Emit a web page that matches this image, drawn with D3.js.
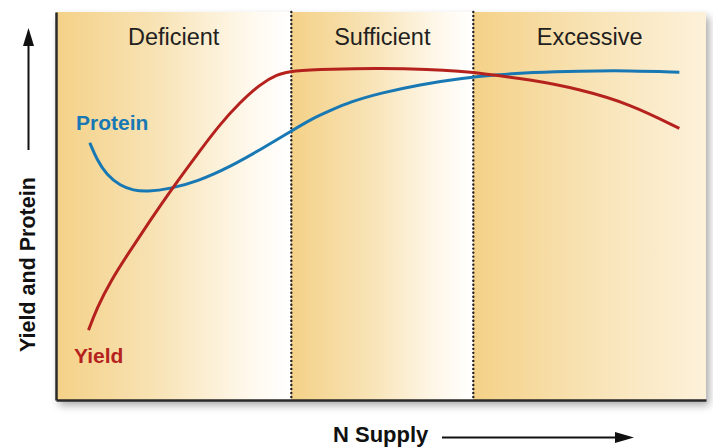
<!DOCTYPE html>
<html>
<head>
<meta charset="utf-8">
<script src="https://cdn.jsdelivr.net/npm/d3@7/dist/d3.min.js"></script>
<style>
  html, body { margin: 0; padding: 0; background: #fff; }
  svg { display: block; }
  text { font-family: "Liberation Sans", Arial, sans-serif; }
</style>
</head>
<body>
<svg id="chart" width="713" height="448"></svg>
<script>
// ---- data ----
const bandNames = ["Deficient", "Sufficient", "Excessive"];
const bandEdges = [0, 3.62, 6.42, 10];            // N supply (relative units)
const yieldN    = [0.50, 0.63, 0.83, 1.14, 1.45, 1.75, 2.22, 2.52, 2.83, 3.14, 3.40, 3.63, 4.22, 4.99, 5.75, 6.22, 6.52, 7.29, 8.06, 8.83, 9.59];
const yieldVal  = [18.0, 23.7, 30.4, 38.5, 46.3, 53.7, 64.4, 71.0, 76.7, 81.4, 83.9, 84.9, 85.3, 85.5, 85.2, 84.7, 84.2, 82.6, 80.1, 76.3, 70.0];
const proteinN   = [0.52, 0.63, 0.78, 0.99, 1.19, 1.40, 1.75, 2.17, 2.68, 3.19, 3.62, 3.95, 4.22, 4.52, 4.99, 5.60, 6.22, 6.83, 7.29, 8.06, 8.83, 9.59];
const proteinVal = [66.3, 61.9, 58.0, 55.2, 54.0, 53.7, 54.4, 56.3, 60.1, 65.0, 69.3, 72.6, 74.6, 76.8, 79.1, 81.3, 82.9, 83.9, 84.4, 84.8, 84.9, 84.5];
const xDomain = [0, 10];
const yDomain = [0, 100];

// ---- layout ----
const svg = d3.select("#chart");
const L = 56, R = 706, T = 12, B = 400;
const x = d3.scaleLinear().domain(xDomain).range([L, R]);
const y = d3.scaleLinear().domain(yDomain).range([B, T]);

const defs = svg.append("defs");
const f = defs.append("filter").attr("id", "shadow")
  .attr("x", "-5%").attr("y", "-5%").attr("width", "115%").attr("height", "120%");
f.append("feDropShadow").attr("dx", 3).attr("dy", 5).attr("stdDeviation", 4)
  .attr("flood-color", "#000").attr("flood-opacity", 0.35);

const gradStops = [
  [[0, "#f4d187"], [0.45, "#f8e4b8"], [0.85, "#fffaf0"], [1, "#ffffff"]],
  [[0, "#f4d187"], [0.45, "#f8e4b8"], [0.85, "#fffaf0"], [1, "#ffffff"]],
  [[0, "#f4d187"], [0.5, "#f8e3b5"], [1, "#fdf1da"]]
];
gradStops.forEach((stops, i) => {
  const g = defs.append("linearGradient").attr("id", "band" + i)
    .attr("x1", "0%").attr("x2", "100%").attr("y1", "0%").attr("y2", "0%");
  stops.forEach(s => g.append("stop").attr("offset", s[0]).attr("stop-color", s[1]));
});

// background with shadow
svg.append("rect").attr("x", L).attr("y", T).attr("width", R - L).attr("height", B - T)
  .attr("fill", "#fdf1da").attr("filter", "url(#shadow)");

// bands
const bands = bandNames.map((n, i) => ({ name: n, x0: bandEdges[i], x1: bandEdges[i + 1], i }));
svg.selectAll("rect.band").data(bands).join("rect").attr("class", "band")
  .attr("x", d => x(d.x0)).attr("y", T)
  .attr("width", d => x(d.x1) - x(d.x0)).attr("height", B - T)
  .attr("fill", d => `url(#band${d.i})`);

svg.selectAll("text.band").data(bands).join("text").attr("class", "band")
  .attr("x", d => (x(d.x0) + x(d.x1)) / 2).attr("y", 45)
  .attr("text-anchor", "middle").attr("font-size", 23.5).attr("fill", "#231f20")
  .text(d => d.name);

// dotted dividers
svg.selectAll("line.div").data(bandEdges.slice(1, -1)).join("line").attr("class", "div")
  .attr("x1", d => x(d)).attr("x2", d => x(d)).attr("y1", T).attr("y2", B)
  .attr("stroke", "#231f20").attr("stroke-width", 2.4)
  .attr("stroke-linecap", "round").attr("stroke-dasharray", "0.01,4");

// axes (lines only)
svg.append("g").attr("transform", `translate(${L},0)`)
  .call(d3.axisLeft(y).tickValues([]).tickSizeOuter(0))
  .call(g => g.select(".domain").attr("stroke", "#2a2a2a").attr("stroke-width", 2.5));
svg.append("g").attr("transform", `translate(0,${B})`)
  .call(d3.axisBottom(x).tickValues([]).tickSizeOuter(0))
  .call(g => g.select(".domain").attr("stroke", "#2a2a2a").attr("stroke-width", 2.5));

// curves
const line = d3.line().x(d => x(d[0])).y(d => y(d[1])).curve(d3.curveBasis);
svg.append("path").datum(d3.zip(proteinN, proteinVal))
  .attr("d", line).attr("fill", "none").attr("stroke", "#1878b4").attr("stroke-width", 3);
svg.append("path").datum(d3.zip(yieldN, yieldVal))
  .attr("d", line).attr("fill", "none").attr("stroke", "#b5221e").attr("stroke-width", 3);

// series labels
svg.append("text").attr("x", 76).attr("y", 129.5).attr("font-size", 21).attr("font-weight", "bold")
  .attr("fill", "#1878b4").text("Protein");
svg.append("text").attr("x", 74).attr("y", 362.5).attr("font-size", 21).attr("font-weight", "bold")
  .attr("fill", "#b5221e").text("Yield");

// axis titles with arrows
svg.append("text").attr("transform", "translate(35,352) rotate(-90)")
  .attr("font-size", 21.5).attr("font-weight", "bold").attr("fill", "#111")
  .text("Yield and Protein");
svg.append("line").attr("x1", 28.5).attr("x2", 28.5).attr("y1", 150).attr("y2", 44)
  .attr("stroke", "#111").attr("stroke-width", 2);
svg.append("path").attr("d", "M28.5,28 L23,46 L34,46 Z").attr("fill", "#111");

svg.append("text").attr("x", 333).attr("y", 442).attr("font-size", 22).attr("font-weight", "bold")
  .attr("fill", "#111").text("N Supply");
svg.append("line").attr("x1", 442).attr("x2", 617).attr("y1", 437.5).attr("y2", 437.5)
  .attr("stroke", "#111").attr("stroke-width", 2);
svg.append("path").attr("d", "M634,437.5 L615,432 L615,443 Z").attr("fill", "#111");
</script>
</body>
</html>
